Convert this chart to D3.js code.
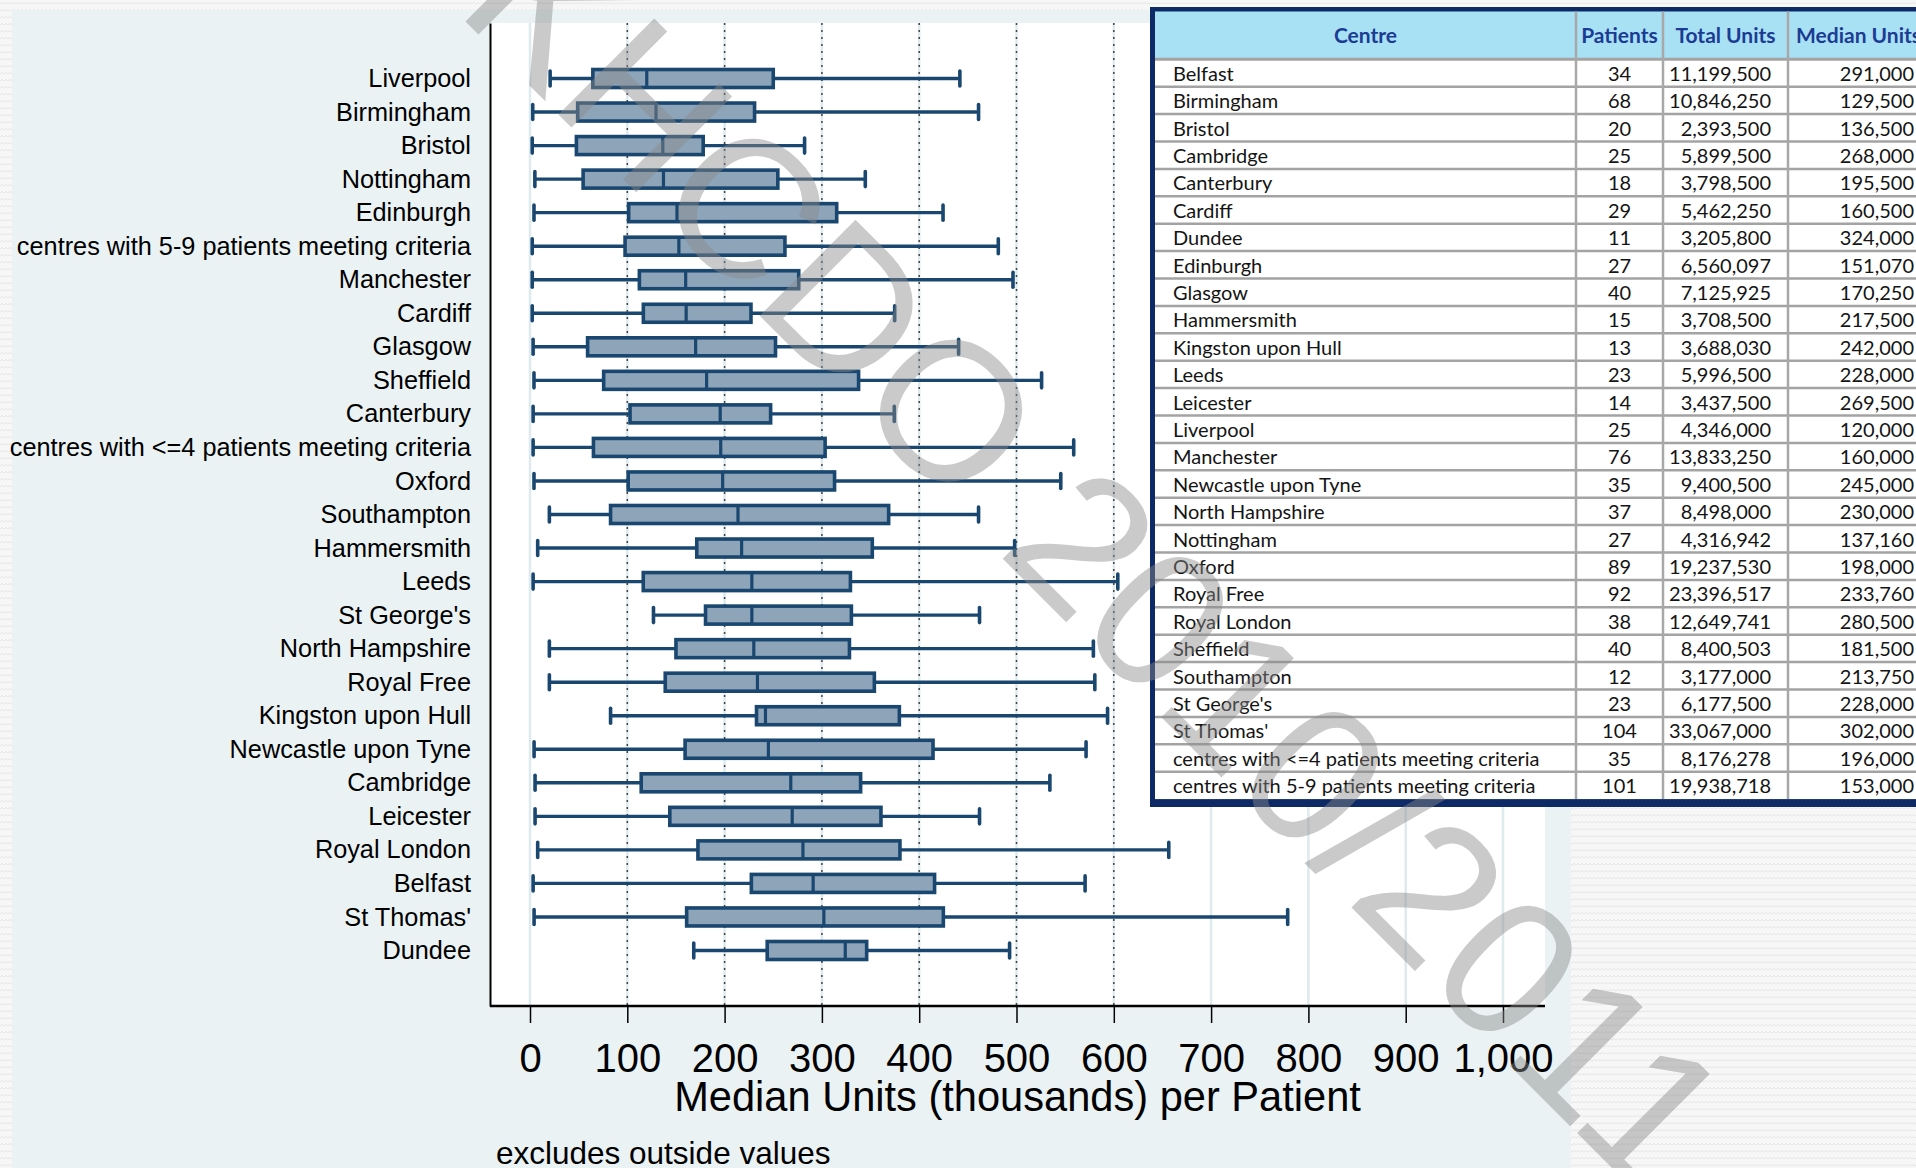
<!DOCTYPE html>
<html><head><meta charset="utf-8">
<script src="https://cdn.jsdelivr.net/npm/d3@7"></script>
<style>html,body{margin:0;padding:0;overflow:hidden;background:#f6f6f6}</style>
</head><body><svg id="c" width="1916" height="1168"></svg>
<script>
// ---- chart data (thousands of units per patient) ----
const centres = ["Liverpool","Birmingham","Bristol","Nottingham","Edinburgh",
  "centres with 5-9 patients meeting criteria","Manchester","Cardiff","Glasgow","Sheffield",
  "Canterbury","centres with <=4 patients meeting criteria","Oxford","Southampton","Hammersmith",
  "Leeds","St George's","North Hampshire","Royal Free","Kingston upon Hull",
  "Newcastle upon Tyne","Cambridge","Leicester","Royal London","Belfast","St Thomas'","Dundee"];
const whiskerLow  = [20.7,2.8,2.3,5,4.1,2.3,2.3,2.3,3.2,4.1,3.2,3.2,4.1,19.9,7.9,3.2,126.9,19.9,19.9,82.8,4.2,5.2,5.2,7.9,3.2,4.2,168.3];
const quartile1   = [64.6,49,47.7,54.6,101.4,97.7,112.4,116.5,59.2,75.7,102.8,65.2,100.9,82.8,171.4,116.4,180.4,150,139,232.8,159.4,114.3,143.7,172.6,227.5,161,243.8];
const medians     = [120,129.5,136.5,137.16,151.07,153,160,160.5,170.25,181.5,195.5,196,198,213.75,217.5,228,228,230,233.76,242,245,268,269.5,280.5,291,302,324];
const quartile3   = [250,230.8,178,254.7,315.2,262,276.2,227.1,252.3,337.7,247.3,303.3,313,368.6,351.8,329.3,330.3,328.3,353.9,379.6,414.2,339.8,360.7,380.2,415.8,424.8,346];
const whiskerHigh = [441.8,461,282.2,344.6,424.5,481.3,496.4,374.8,440.5,525.8,374.4,558.8,545.5,461,498.1,604.1,462,579,580.5,593.6,571.5,534.3,462,656.5,570.5,778.7,492.9];
const xTicks = [0,100,200,300,400,500,600,700,800,900,1000];
const dottedLines = [100,200,300,400,500,600];
const xTitle = "Median Units (thousands) per Patient";
const note = "excludes outside values";

// ---- table data ----
const tableHeaders = ["Centre","Patients","Total Units","Median Units"];
const tableCentres = ["Belfast","Birmingham","Bristol","Cambridge","Canterbury","Cardiff","Dundee","Edinburgh",
  "Glasgow","Hammersmith","Kingston upon Hull","Leeds","Leicester","Liverpool","Manchester","Newcastle upon Tyne",
  "North Hampshire","Nottingham","Oxford","Royal Free","Royal London","Sheffield","Southampton","St George's",
  "St Thomas'","centres with <=4 patients meeting criteria","centres with 5-9 patients meeting criteria"];
const tablePatients = [34,68,20,25,18,29,11,27,40,15,13,23,14,25,76,35,37,27,89,92,38,40,12,23,104,35,101];
const tableTotalUnits = [11199500,10846250,2393500,5899500,3798500,5462250,3205800,6560097,7125925,3708500,3688030,5996500,3437500,4346000,13833250,9400500,8498000,4316942,19237530,23396517,12649741,8400503,3177000,6177500,33067000,8176278,19938718];
const tableMedianUnits = [291000,129500,136500,268000,195500,160500,324000,151070,170250,217500,242000,228000,269500,120000,160000,245000,230000,137160,198000,233760,280500,181500,213750,228000,302000,196000,153000];
const watermark = "UKHCDO 2010/2011";

const svg = d3.select("#c");
const W = 1916, H = 1168;
const plot = {left: 490, right: 1545, top: 23, bottom: 1006};
const navy = "#1a476f", boxFill = "#8ea4b9";
const arial = "'Liberation Sans', Arial, sans-serif";

// background pattern
const defs = svg.append("defs");
const pat = defs.append("pattern").attr("id","zig").attr("width",8).attr("height",7).attr("patternUnits","userSpaceOnUse");
pat.append("rect").attr("width",8).attr("height",7).attr("fill","#f7f7f7");
pat.append("path").attr("d","M0 4 L2 2.5 L4 4 L6 2.5 L8 4").attr("fill","none").attr("stroke","#e6e6e6").attr("stroke-width",1);
svg.append("rect").attr("width",W).attr("height",H).attr("fill","url(#zig)");
svg.append("rect").attr("x",12).attr("y",10).attr("width",1559).attr("height",H-10).attr("fill","#eaf2f3");
svg.append("rect").attr("x",plot.left).attr("y",plot.top).attr("width",plot.right-plot.left).attr("height",plot.bottom-plot.top).attr("fill","#ffffff");

const x = d3.scaleLinear().domain([0,1000]).range([530,1503]);
const y = d3.scalePoint().domain(centres).range([plot.top, plot.bottom]).padding(1.655);

// gridlines
svg.append("g").selectAll("line").data(xTicks).join("line")
  .attr("x1",d=>x(d)).attr("x2",d=>x(d)).attr("y1",plot.top).attr("y2",plot.bottom)
  .attr("stroke","#deeaee").attr("stroke-width",2.5);
svg.append("g").selectAll("line").data(dottedLines).join("line")
  .attr("x1",d=>x(d)).attr("x2",d=>x(d)).attr("y1",plot.top).attr("y2",plot.bottom)
  .attr("stroke","#444").attr("stroke-width",1.5).attr("stroke-dasharray","2,5");

// boxes
const rows = centres.map((c,i)=>({c, lo:whiskerLow[i], q1:quartile1[i], med:medians[i], q3:quartile3[i], hi:whiskerHigh[i]}));
const g = svg.append("g").selectAll("g").data(rows).join("g").attr("transform",d=>`translate(0,${y(d.c)})`);
g.append("line").attr("x1",d=>x(d.lo)).attr("x2",d=>x(d.hi)).attr("stroke",navy).attr("stroke-width",3.4);
g.append("line").attr("x1",d=>x(d.lo)).attr("x2",d=>x(d.lo)).attr("y1",-7.5).attr("y2",7.5).attr("stroke",navy).attr("stroke-width",3.6).attr("stroke-linecap","round");
g.append("line").attr("x1",d=>x(d.hi)).attr("x2",d=>x(d.hi)).attr("y1",-7.5).attr("y2",7.5).attr("stroke",navy).attr("stroke-width",3.6).attr("stroke-linecap","round");
g.append("rect").attr("x",d=>x(d.q1)).attr("width",d=>x(d.q3)-x(d.q1)).attr("y",-9).attr("height",18)
  .attr("fill",boxFill).attr("stroke",navy).attr("stroke-width",3.6);
g.append("line").attr("x1",d=>x(d.med)).attr("x2",d=>x(d.med)).attr("y1",-9).attr("y2",9).attr("stroke",navy).attr("stroke-width",3.2);

// axes
const xAxis = svg.append("g").attr("transform",`translate(0,${plot.bottom})`)
  .call(d3.axisBottom(x).tickValues(xTicks).tickSize(17).tickSizeOuter(0).tickPadding(21).tickFormat(d3.format(",")));
xAxis.select(".domain").remove();
xAxis.selectAll(".tick line").attr("stroke","#000").attr("stroke-width",1.5);
xAxis.selectAll("text").attr("font-family",arial).attr("font-size",40).attr("fill","#000");
svg.append("line").attr("x1",plot.left).attr("x2",plot.right).attr("y1",plot.bottom).attr("y2",plot.bottom).attr("stroke","#000").attr("stroke-width",2.5);

const yAxis = svg.append("g").attr("transform",`translate(${plot.left},0)`)
  .call(d3.axisLeft(y).tickSize(0).tickSizeOuter(0).tickPadding(19));
yAxis.select(".domain").attr("stroke","#000").attr("stroke-width",2);
yAxis.selectAll("text").attr("font-family",arial).attr("font-size",25.3).attr("fill","#000");

svg.append("text").attr("x",(plot.left+plot.right)/2).attr("y",1111).attr("text-anchor","middle")
  .attr("font-family",arial).attr("font-size",41.6).text(xTitle);
svg.append("text").attr("x",496).attr("y",1164)
  .attr("font-family",arial).attr("font-size",31.5).text(note);

// table
const T = {left:1150, top:7, headBottom:59.3, rowH:27.4, colX:[1576,1663,1788]};
const tf = "Lato, 'Open Sans', sans-serif";
const tbl = svg.append("g");
tbl.append("rect").attr("x",T.left+2.5).attr("y",T.top+2.5).attr("width",900).attr("height",795).attr("fill","#fff").attr("stroke","#0d2a66").attr("stroke-width",5);
tbl.append("rect").attr("x",T.left+5).attr("y",T.top+4.5).attr("width",900).attr("height",T.headBottom-T.top-4.5).attr("fill","#a9e1f4");
const fmt = d3.format(",");
const rowTop = i => T.headBottom + i*T.rowH;
tbl.append("g").selectAll("line").data(d3.range(tableCentres.length)).join("line")
  .attr("x1",T.left+5).attr("x2",W).attr("y1",i=>rowTop(i)).attr("y2",i=>rowTop(i))
  .attr("stroke","#a3a3a3").attr("stroke-width",i=>i===0?3:2.5);
tbl.append("g").selectAll("line").data(T.colX).join("line")
  .attr("x1",d=>d).attr("x2",d=>d).attr("y1",T.top+4.5).attr("y2",rowTop(tableCentres.length))
  .attr("stroke","#a8a8a8").attr("stroke-width",2.5);
tbl.append("rect").attr("x",T.left).attr("y",rowTop(tableCentres.length)).attr("width",900).attr("height",807-rowTop(tableCentres.length)).attr("fill","#0d2a66");

const hx = [(T.left+5+T.colX[0])/2, (T.colX[0]+T.colX[1])/2, (T.colX[1]+T.colX[2])/2, 1796];
const ha = ["middle","middle","middle","start"];
tbl.append("g").selectAll("text").data(tableHeaders).join("text")
  .attr("x",(d,i)=>hx[i]).attr("y",43).attr("text-anchor",(d,i)=>ha[i])
  .attr("font-family",tf).attr("font-weight","bold").attr("font-size",21).attr("fill","#1c3c94").text(d=>d);

const tr = tbl.append("g").selectAll("g").data(tableCentres).join("g").attr("transform",(d,i)=>`translate(0,${rowTop(i)+21.5})`);
tr.append("text").attr("x",1173).attr("font-family",tf).attr("font-size",20).attr("fill","#141414").text(d=>d);
tr.append("text").attr("x",hx[1]).attr("text-anchor","middle").attr("font-family",tf).attr("font-size",20).attr("fill","#141414").text((d,i)=>tablePatients[i]);
tr.append("text").attr("x",1771).attr("text-anchor","end").attr("font-family",tf).attr("font-size",20).attr("fill","#141414").text((d,i)=>fmt(tableTotalUnits[i]));
tr.append("text").attr("x",1914).attr("text-anchor","end").attr("font-family",tf).attr("font-size",20).attr("fill","#141414").text((d,i)=>fmt(tableMedianUnits[i]));

// watermark
svg.append("text").attr("transform","translate(1644,1200) rotate(45)").attr("text-anchor","end")
  .attr("font-family",arial).attr("font-size",197)
  .attr("fill","#8a8a8a").attr("fill-opacity",0.45).text(watermark);
</script></body></html>
